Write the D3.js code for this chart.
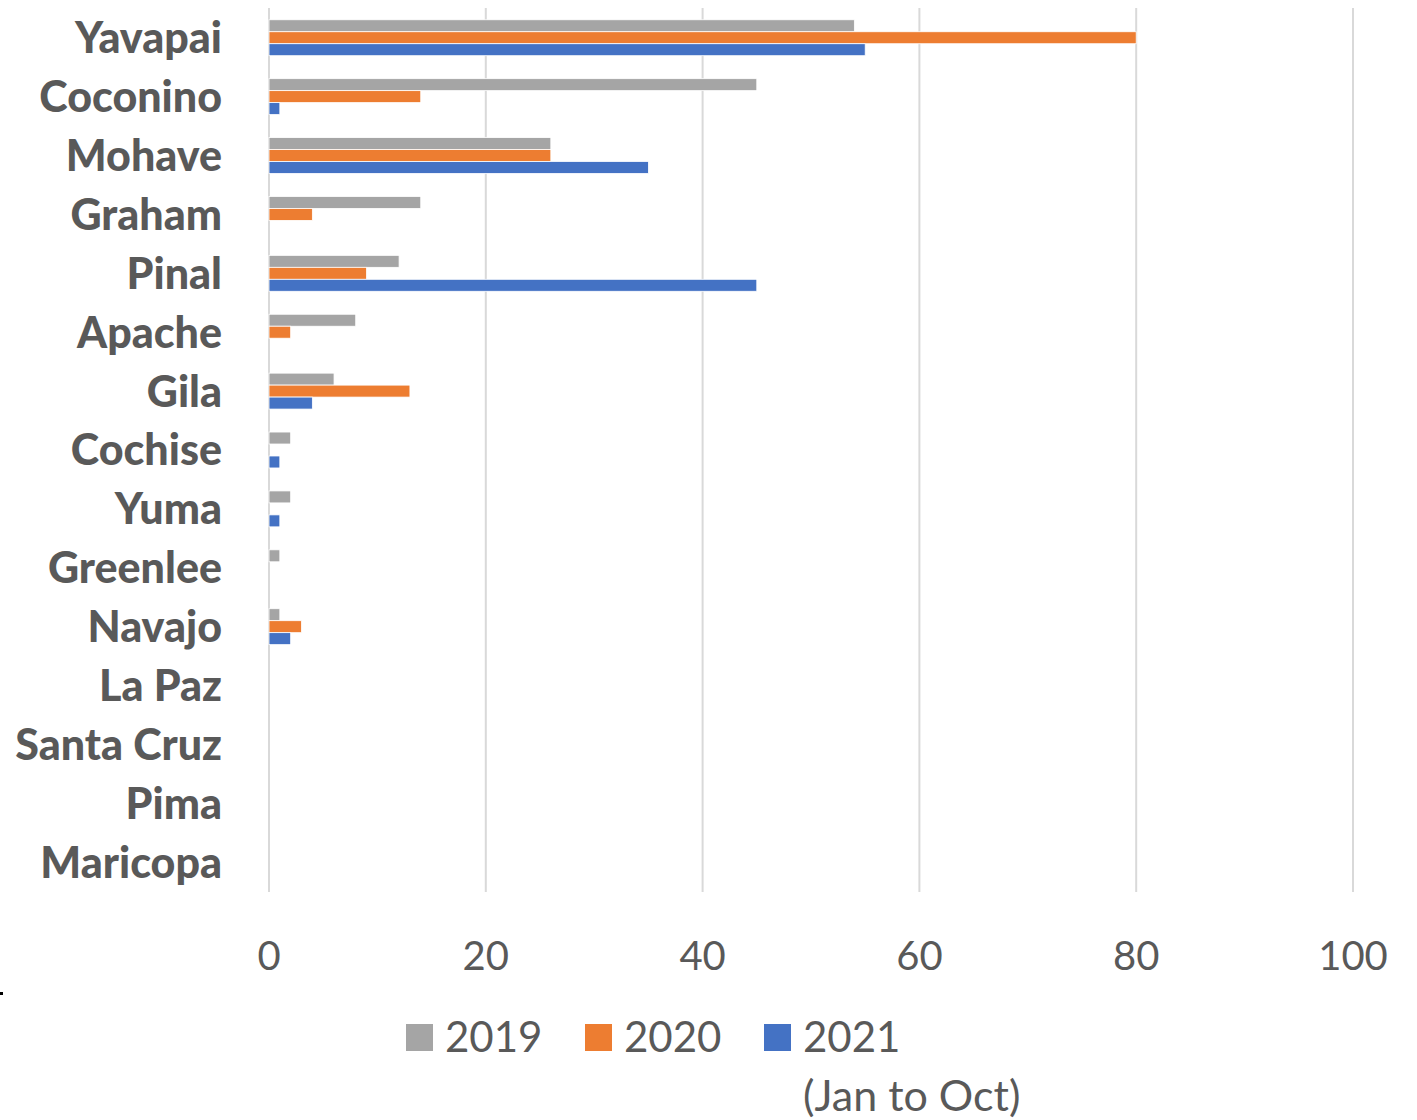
<!DOCTYPE html>
<html>
<head>
<meta charset="utf-8">
<script src="https://cdn.jsdelivr.net/npm/d3@7"></script>
<style>
  body { margin: 0; background: #fff; }
  text { font-family: Lato, 'Open Sans', sans-serif; }
</style>
</head>
<body>
<div id="chart"></div>
<script>
const counties = ['Yavapai', 'Coconino', 'Mohave', 'Graham', 'Pinal', 'Apache', 'Gila',
    'Cochise', 'Yuma', 'Greenlee', 'Navajo', 'La Paz', 'Santa Cruz', 'Pima', 'Maricopa'];
const years = ['2019', '2020', '2021'];
const v2019 = [54, 45, 26, 14, 12, 8, 6, 2, 2, 1, 1, 0, 0, 0, 0];
const v2020 = [80, 14, 26, 4, 9, 2, 13, 0, 0, 0, 3, 0, 0, 0, 0];
const v2021 = [55, 1, 35, 0, 45, 0, 4, 1, 1, 0, 2, 0, 0, 0, 0];
const xTicks = [0, 20, 40, 60, 80, 100];

const colors = ['#a5a5a5', '#ed7d31', '#4472c4'];
const textColor = '#595959';

const width = 1417, height = 1120;
const margin = { top: 8, left: 269, right: 64, bottom: 228 };

const svg = d3.select('#chart').append('svg')
    .attr('width', width)
    .attr('height', height);

const x = d3.scaleLinear()
    .domain([0, 100])
    .range([margin.left, width - margin.right]);

const y = d3.scaleBand()
    .domain(counties)
    .range([margin.top, height - margin.bottom])
    .paddingInner(0.39)
    .paddingOuter(0.2);

const sub = d3.scaleBand()
    .domain(years)
    .range([0, y.bandwidth()]);

// gridlines
svg.append('g')
    .selectAll('line')
    .data(xTicks)
    .enter().append('line')
    .attr('x1', d => x(d)).attr('x2', d => x(d))
    .attr('y1', margin.top).attr('y2', height - margin.bottom)
    .attr('stroke', '#d9d9d9')
    .attr('stroke-width', 2);

// bars
const series = [v2019, v2020, v2021];
const rows = counties.map((c, i) => ({ county: c, vals: series.map(s => s[i]) }));

const groups = svg.append('g')
    .selectAll('g')
    .data(rows)
    .enter().append('g')
    .attr('transform', d => 'translate(0,' + y(d.county) + ')');

groups.selectAll('rect')
    .data(d => d.vals.map((v, j) => ({ year: years[j], v: v, j: j })).filter(e => e.v > 0))
    .enter().append('rect')
    .attr('x', x(0))
    .attr('y', d => sub(d.year))
    .attr('width', d => x(d.v) - x(0))
    .attr('height', sub.bandwidth())
    .attr('fill', d => colors[d.j])
    .attr('stroke', '#fff')
    .attr('stroke-width', 0.8);

// category labels
svg.append('g')
    .selectAll('text')
    .data(counties)
    .enter().append('text')
    .attr('x', 222)
    .attr('y', d => y(d) + y.bandwidth() / 2)
    .attr('dy', '0.36em')
    .attr('text-anchor', 'end')
    .attr('font-size', 43)
    .attr('font-weight', 900)
    .attr('fill', textColor)
    .text(d => d);

// x tick labels
svg.append('g')
    .selectAll('text')
    .data(xTicks)
    .enter().append('text')
    .attr('x', d => x(d))
    .attr('y', 956)
    .attr('dy', '0.36em')
    .attr('text-anchor', 'middle')
    .attr('font-size', 40)
    .attr('fill', textColor)
    .text(d => d);

// legend
const legendX = [406, 585, 764];
const legend = svg.append('g')
    .selectAll('g')
    .data(years)
    .enter().append('g')
    .attr('transform', (d, i) => 'translate(' + legendX[i] + ',1024)');

legend.append('rect')
    .attr('width', 27)
    .attr('height', 27)
    .attr('fill', (d, i) => colors[i]);

legend.append('text')
    .attr('x', 39)
    .attr('y', 13)
    .attr('dy', '0.36em')
    .attr('font-size', 42)
    .attr('fill', textColor)
    .text(d => d);

svg.append('text')
    .attr('x', 803)
    .attr('y', 1096)
    .attr('dy', '0.36em')
    .attr('font-size', 43)
    .attr('fill', textColor)
    .text('(Jan to Oct)');

// small stray mark at the left edge
svg.append('rect')
    .attr('x', 0).attr('y', 992)
    .attr('width', 3).attr('height', 3)
    .attr('fill', '#000');
</script>
</body>
</html>
